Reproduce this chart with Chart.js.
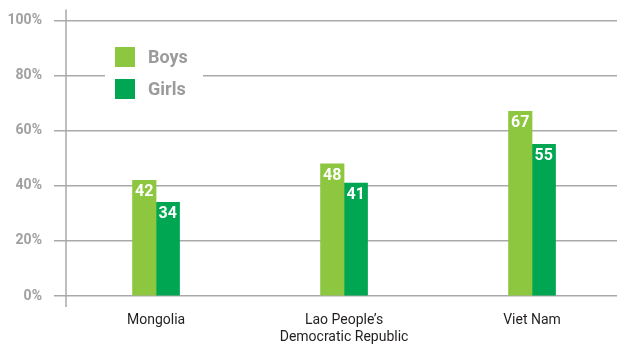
<!DOCTYPE html>
<html>
<head>
<meta charset="utf-8">
<script src="https://cdn.jsdelivr.net/npm/chart.js@4/dist/chart.umd.min.js"></script>
<style>
  html, body { margin: 0; padding: 0; background: #fff; }
  canvas { display: block; }
</style>
</head>
<body>
<canvas id="chart" width="617" height="345"></canvas>
<script>
const countries = [['Mongolia'], ['Lao People\u2019s', 'Democratic Republic'], ['Viet Nam']];
const boys = [42, 48, 67];
const girls = [34, 41, 55];
const yTicks = [0, 20, 40, 60, 80, 100];

const boysColor = '#8dc63f';
const girlsColor = '#00a651';
const gridColor = '#a9a9a9';

// vertical axis line, running a little past the top and bottom gridlines
const axisLine = {
  id: 'axisLine',
  beforeDatasetsDraw(chart) {
    const { ctx, chartArea } = chart;
    ctx.save();
    ctx.strokeStyle = gridColor;
    ctx.lineWidth = 1.5;
    ctx.beginPath();
    ctx.moveTo(chartArea.left, chartArea.top - 11);
    ctx.lineTo(chartArea.left, chartArea.bottom + 11);
    ctx.stroke();
    ctx.restore();
  }
};

// white value text at the top of each bar
const valueLabels = {
  id: 'valueLabels',
  afterDatasetsDraw(chart) {
    const ctx = chart.ctx;
    ctx.save();
    ctx.fillStyle = '#fff';
    ctx.font = 'bold 16px Roboto, Arial, sans-serif';
    ctx.textAlign = 'center';
    ctx.textBaseline = 'top';
    chart.data.datasets.forEach((ds, i) => {
      chart.getDatasetMeta(i).data.forEach((bar, j) => {
        ctx.fillText(String(ds.data[j].y), bar.x, bar.y + 4);
      });
    });
    ctx.restore();
  }
};

// boxed legend sitting on top of the gridlines
const boxLegend = {
  id: 'boxLegend',
  afterDatasetsDraw(chart) {
    const ctx = chart.ctx;
    ctx.save();
    ctx.fillStyle = '#fff';
    ctx.fillRect(105, 38, 98, 68);
    ctx.font = 'bold 18px Roboto, Arial, sans-serif';
    ctx.textBaseline = 'middle';
    chart.data.datasets.forEach((ds, i) => {
      const y = 47 + i * 32;
      ctx.fillStyle = ds.backgroundColor;
      ctx.fillRect(115, y, 20, 20);
      ctx.fillStyle = '#9b9b9b';
      ctx.fillText(ds.label, 148, y + 11);
    });
    ctx.restore();
  }
};

new Chart(document.getElementById('chart'), {
  type: 'bar',
  data: {
    datasets: [
      { label: 'Boys', data: boys.map((v, i) => ({ x: i, y: v })), backgroundColor: boysColor, barThickness: 23.5 },
      { label: 'Girls', data: girls.map((v, i) => ({ x: i, y: v })), backgroundColor: girlsColor, barThickness: 23.5 }
    ]
  },
  options: {
    responsive: false,
    animation: false,
    devicePixelRatio: 1,
    layout: { padding: { top: 19, left: 0, right: 0, bottom: 0 } },
    plugins: { legend: { display: false }, tooltip: { enabled: false } },
    scales: {
      x: {
        type: 'linear',
        offset: false,
        min: -0.479,
        max: 2.452,
        afterBuildTicks: s => { s.ticks = countries.map((c, i) => ({ value: i })); },
        afterFit: s => { s.height = 49; },
        grid: { display: false, drawTicks: false, tickLength: 0 },
        border: { display: false },
        ticks: {
          padding: 16,
          maxRotation: 0,
          minRotation: 0,
          autoSkip: false,
          color: '#231f20',
          font: { family: 'Roboto, Arial, sans-serif', size: 14, lineHeight: 1.2 },
          callback: (v) => countries[v]
        }
      },
      y: {
        min: 0,
        max: 100,
        afterBuildTicks: s => { s.ticks = yTicks.map(v => ({ value: v })); },
        afterFit: s => { s.width = 66; },
        grid: { color: gridColor, lineWidth: 1.5, tickLength: 12 },
        border: { display: false },
        ticks: {
          padding: 12,
          color: '#a0a0a0',
          font: { family: 'Roboto, Arial, sans-serif', size: 14, weight: 'bold' },
          callback: v => v + '%'
        }
      }
    }
  },
  plugins: [axisLine, valueLabels, boxLegend]
});
</script>
</body>
</html>
